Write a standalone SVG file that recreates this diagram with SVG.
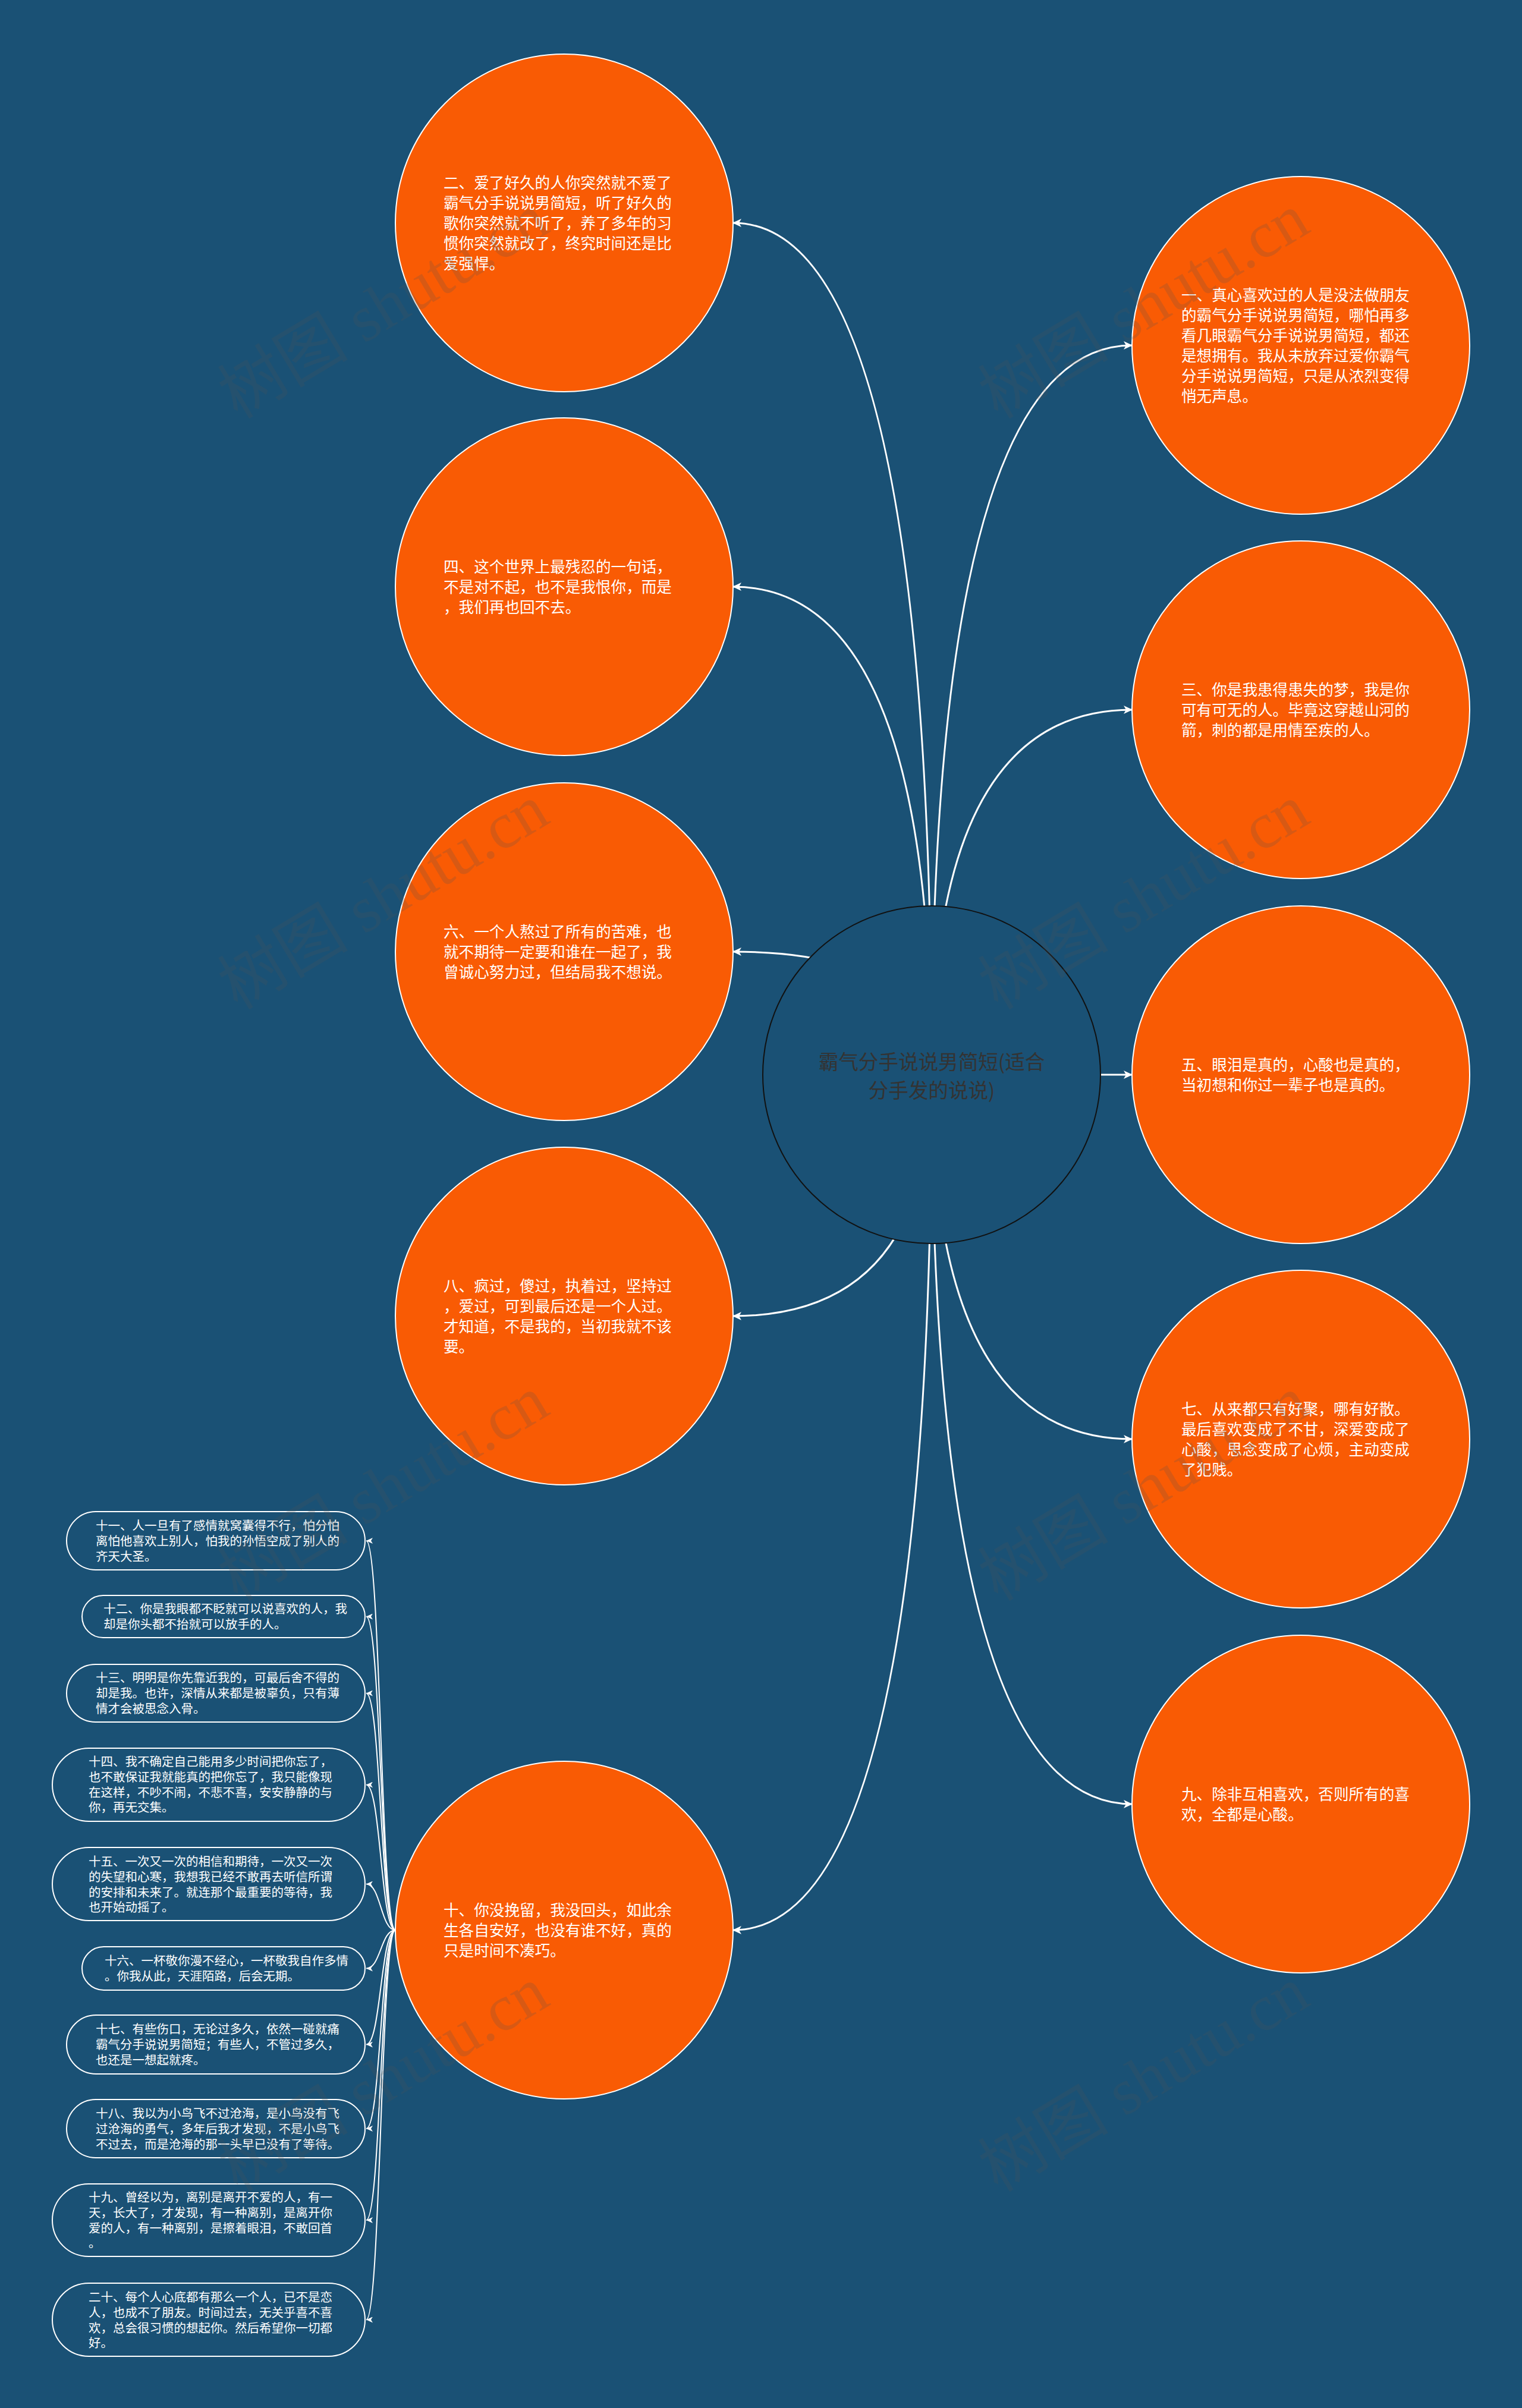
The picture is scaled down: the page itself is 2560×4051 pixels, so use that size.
<svg xmlns="http://www.w3.org/2000/svg" width="2560" height="4051" viewBox="0 0 2560 4051">
<style>
.bgr{fill:#1a5175}
.leaf{fill:#f95b04;stroke:#ffffff;stroke-width:2}
.root{fill:#1a5175;stroke:#111111;stroke-width:2}
.pill{fill:none;stroke:#ffffff;stroke-width:2}
.t{font-family:"Noto Sans CJK SC","Noto Sans",sans-serif;fill:#ffffff;font-size:25.6px}
.s{font-family:"Noto Sans CJK SC","Noto Sans",sans-serif;fill:#ffffff;font-size:20.5px}
.c{font-family:"Noto Sans CJK SC","Noto Sans",sans-serif;fill:#333333;font-size:33.6px;text-anchor:middle}
.link{fill:none;stroke:#ffffff;stroke-width:3}
.plink{fill:none;stroke:#ffffff;stroke-width:2}
.wm{font-family:"Liberation Serif","Noto Sans CJK SC",serif;font-size:110px;fill:#555555;opacity:0.2;text-anchor:middle}
</style>
<defs>
<marker id="arr" markerUnits="userSpaceOnUse" markerWidth="16" markerHeight="14" refX="14" refY="7" orient="auto">
<path d="M0,0 L15,7 L0,14 L4,7 z" fill="#ffffff"/>
</marker>
<marker id="arrs" markerUnits="userSpaceOnUse" markerWidth="12" markerHeight="10" refX="11" refY="5" orient="auto">
<path d="M0,0 L11,5 L0,10 L3,5 z" fill="#ffffff"/>
</marker>
</defs>
<rect class="bgr" x="0" y="0" width="2560" height="4051"/>

<g id="connectors">
<path class="link" marker-end="url(#arr)" d="M1567,1808 Q1567,375 1233,375"/>
<path class="link" marker-end="url(#arr)" d="M1567,1808 Q1567,987 1233,987"/>
<path class="link" marker-end="url(#arr)" d="M1567,1808 Q1567,1601 1233,1601"/>
<path class="link" marker-end="url(#arr)" d="M1567,1808 Q1567,2214 1233,2214"/>
<path class="link" marker-end="url(#arr)" d="M1567,1808 Q1567,3247 1233,3247"/>
<path class="link" marker-end="url(#arr)" d="M1567,1808 Q1567,581 1904,581"/>
<path class="link" marker-end="url(#arr)" d="M1567,1808 Q1567,1194 1904,1194"/>
<path class="link" marker-end="url(#arr)" d="M1567,1808 L1904,1808"/>
<path class="link" marker-end="url(#arr)" d="M1567,1808 Q1567,2421 1904,2421"/>
<path class="link" marker-end="url(#arr)" d="M1567,1808 Q1567,3035 1904,3035"/>
<path class="plink" marker-end="url(#arrs)" d="M665,3247 C640.5,3247 640.5,2592 616,2592"/>
<path class="plink" marker-end="url(#arrs)" d="M665,3247 C640.5,3247 640.5,2719.5 616,2719.5"/>
<path class="plink" marker-end="url(#arrs)" d="M665,3247 C640.5,3247 640.5,2848.5 616,2848.5"/>
<path class="plink" marker-end="url(#arrs)" d="M665,3247 C640.5,3247 640.5,3002.5 616,3002.5"/>
<path class="plink" marker-end="url(#arrs)" d="M665,3247 C640.5,3247 640.5,3169.5 616,3169.5"/>
<path class="plink" marker-end="url(#arrs)" d="M665,3247 C640.5,3247 640.5,3311.5 616,3311.5"/>
<path class="plink" marker-end="url(#arrs)" d="M665,3247 C640.5,3247 640.5,3439.5 616,3439.5"/>
<path class="plink" marker-end="url(#arrs)" d="M665,3247 C640.5,3247 640.5,3581 616,3581"/>
<path class="plink" marker-end="url(#arrs)" d="M665,3247 C640.5,3247 640.5,3735 616,3735"/>
<path class="plink" marker-end="url(#arrs)" d="M665,3247 C640.5,3247 640.5,3902.5 616,3902.5"/>
</g>

<g id="root">
<circle class="root" cx="1567" cy="1808" r="284"/>
<text class="c" x="1567" y="1799">霸气分手说说男简短(适合</text>
<text class="c" x="1567" y="1847">分手发的说说)</text>
</g>

<g id="n2">
<circle class="leaf" cx="949" cy="375" r="284"/>
<text class="t" x="746" y="317"><tspan x="746">二、爱了好久的人你突然就不爱了</tspan><tspan x="746" dy="34">霸气分手说说男简短，听了好久的</tspan><tspan x="746" dy="34">歌你突然就不听了，养了多年的习</tspan><tspan x="746" dy="34">惯你突然就改了，终究时间还是比</tspan><tspan x="746" dy="34">爱强悍。</tspan></text>
</g>
<g id="n4">
<circle class="leaf" cx="949" cy="987" r="284"/>
<text class="t" x="746" y="963"><tspan x="746">四、这个世界上最残忍的一句话，</tspan><tspan x="746" dy="34">不是对不起，也不是我恨你，而是</tspan><tspan x="746" dy="34">，我们再也回不去。</tspan></text>
</g>
<g id="n6">
<circle class="leaf" cx="949" cy="1601" r="284"/>
<text class="t" x="746" y="1577"><tspan x="746">六、一个人熬过了所有的苦难，也</tspan><tspan x="746" dy="34">就不期待一定要和谁在一起了，我</tspan><tspan x="746" dy="34">曾诚心努力过，但结局我不想说。</tspan></text>
</g>
<g id="n8">
<circle class="leaf" cx="949" cy="2214" r="284"/>
<text class="t" x="746" y="2173"><tspan x="746">八、疯过，傻过，执着过，坚持过</tspan><tspan x="746" dy="34">，爱过，可到最后还是一个人过。</tspan><tspan x="746" dy="34">才知道，不是我的，当初我就不该</tspan><tspan x="746" dy="34">要。</tspan></text>
</g>
<g id="n10">
<circle class="leaf" cx="949" cy="3247" r="284"/>
<text class="t" x="746" y="3223"><tspan x="746">十、你没挽留，我没回头，如此余</tspan><tspan x="746" dy="34">生各自安好，也没有谁不好，真的</tspan><tspan x="746" dy="34">只是时间不凑巧。</tspan></text>
</g>

<g id="n1">
<circle class="leaf" cx="2188" cy="581" r="284"/>
<text class="t" x="1987" y="506"><tspan x="1987">一、真心喜欢过的人是没法做朋友</tspan><tspan x="1987" dy="34">的霸气分手说说男简短，哪怕再多</tspan><tspan x="1987" dy="34">看几眼霸气分手说说男简短，都还</tspan><tspan x="1987" dy="34">是想拥有。我从未放弃过爱你霸气</tspan><tspan x="1987" dy="34">分手说说男简短，只是从浓烈变得</tspan><tspan x="1987" dy="34">悄无声息。</tspan></text>
</g>
<g id="n3">
<circle class="leaf" cx="2188" cy="1194" r="284"/>
<text class="t" x="1987" y="1170"><tspan x="1987">三、你是我患得患失的梦，我是你</tspan><tspan x="1987" dy="34">可有可无的人。毕竟这穿越山河的</tspan><tspan x="1987" dy="34">箭，刺的都是用情至疾的人。</tspan></text>
</g>
<g id="n5">
<circle class="leaf" cx="2188" cy="1808" r="284"/>
<text class="t" x="1987" y="1801"><tspan x="1987">五、眼泪是真的，心酸也是真的，</tspan><tspan x="1987" dy="34">当初想和你过一辈子也是真的。</tspan></text>
</g>
<g id="n7">
<circle class="leaf" cx="2188" cy="2421" r="284"/>
<text class="t" x="1987" y="2380"><tspan x="1987">七、从来都只有好聚，哪有好散。</tspan><tspan x="1987" dy="34">最后喜欢变成了不甘，深爱变成了</tspan><tspan x="1987" dy="34">心酸，思念变成了心烦，主动变成</tspan><tspan x="1987" dy="34">了犯贱。</tspan></text>
</g>
<g id="n9">
<circle class="leaf" cx="2188" cy="3035" r="284"/>
<text class="t" x="1987" y="3028"><tspan x="1987">九、除非互相喜欢，否则所有的喜</tspan><tspan x="1987" dy="34">欢，全都是心酸。</tspan></text>
</g>

<g id="n11">
<rect class="pill" x="112" y="2543" width="502" height="98" rx="49"/>
<text class="s" x="161" y="2574"><tspan x="161">十一、人一旦有了感情就窝囊得不行，怕分怕</tspan><tspan x="161" dy="25.8">离怕他喜欢上别人，怕我的孙悟空成了别人的</tspan><tspan x="161" dy="25.8">齐天大圣。</tspan></text>
</g>
<g id="n12">
<rect class="pill" x="138" y="2684" width="476" height="71" rx="35.5"/>
<text class="s" x="174" y="2714"><tspan x="174">十二、你是我眼都不眨就可以说喜欢的人，我</tspan><tspan x="174" dy="25.8">却是你头都不抬就可以放手的人。</tspan></text>
</g>
<g id="n13">
<rect class="pill" x="112" y="2800" width="502" height="97" rx="48.5"/>
<text class="s" x="161" y="2830"><tspan x="161">十三、明明是你先靠近我的，可最后舍不得的</tspan><tspan x="161" dy="25.8">却是我。也许，深情从来都是被辜负，只有薄</tspan><tspan x="161" dy="25.8">情才会被思念入骨。</tspan></text>
</g>
<g id="n14">
<rect class="pill" x="88" y="2941" width="526" height="123" rx="61.5"/>
<text class="s" x="149" y="2971"><tspan x="149">十四、我不确定自己能用多少时间把你忘了，</tspan><tspan x="149" dy="25.8">也不敢保证我就能真的把你忘了，我只能像现</tspan><tspan x="149" dy="25.8">在这样，不吵不闹，不悲不喜，安安静静的与</tspan><tspan x="149" dy="25.8">你，再无交集。</tspan></text>
</g>
<g id="n15">
<rect class="pill" x="88" y="3108" width="526" height="123" rx="61.5"/>
<text class="s" x="149" y="3139"><tspan x="149">十五、一次又一次的相信和期待，一次又一次</tspan><tspan x="149" dy="25.8">的失望和心寒，我想我已经不敢再去听信所谓</tspan><tspan x="149" dy="25.8">的安排和未来了。就连那个最重要的等待，我</tspan><tspan x="149" dy="25.8">也开始动摇了。</tspan></text>
</g>
<g id="n16">
<rect class="pill" x="138" y="3275" width="476" height="73" rx="36.5"/>
<text class="s" x="176" y="3306"><tspan x="176">十六、一杯敬你漫不经心，一杯敬我自作多情</tspan><tspan x="176" dy="25.8">。你我从此，天涯陌路，后会无期。</tspan></text>
</g>
<g id="n17">
<rect class="pill" x="112" y="3390" width="502" height="99" rx="49.5"/>
<text class="s" x="161" y="3421"><tspan x="161">十七、有些伤口，无论过多久，依然一碰就痛</tspan><tspan x="161" dy="25.8">霸气分手说说男简短；有些人，不管过多久，</tspan><tspan x="161" dy="25.8">也还是一想起就疼。</tspan></text>
</g>
<g id="n18">
<rect class="pill" x="112" y="3532" width="502" height="98" rx="49"/>
<text class="s" x="161" y="3563"><tspan x="161">十八、我以为小鸟飞不过沧海，是小鸟没有飞</tspan><tspan x="161" dy="25.8">过沧海的勇气，多年后我才发现，不是小鸟飞</tspan><tspan x="161" dy="25.8">不过去，而是沧海的那一头早已没有了等待。</tspan></text>
</g>
<g id="n19">
<rect class="pill" x="88" y="3674" width="526" height="122" rx="61"/>
<text class="s" x="149" y="3704"><tspan x="149">十九、曾经以为，离别是离开不爱的人，有一</tspan><tspan x="149" dy="25.8">天，长大了，才发现，有一种离别，是离开你</tspan><tspan x="149" dy="25.8">爱的人，有一种离别，是擦着眼泪，不敢回首</tspan><tspan x="149" dy="25.8">。</tspan></text>
</g>
<g id="n20">
<rect class="pill" x="88" y="3841" width="526" height="123" rx="61.5"/>
<text class="s" x="149" y="3872"><tspan x="149">二十、每个人心底都有那么一个人，已不是恋</tspan><tspan x="149" dy="25.8">人，也成不了朋友。时间过去，无关乎喜不喜</tspan><tspan x="149" dy="25.8">欢，总会很习惯的想起你。然后希望你一切都</tspan><tspan x="149" dy="25.8">好。</tspan></text>
</g>

<g id="watermarks">
<text class="wm" transform="translate(646,517) rotate(-31)" x="0" y="35">树图 shutu.cn</text>
<text class="wm" transform="translate(1925,517) rotate(-31)" x="0" y="35">树图 shutu.cn</text>
<text class="wm" transform="translate(646,1511) rotate(-31)" x="0" y="35">树图 shutu.cn</text>
<text class="wm" transform="translate(1925,1511) rotate(-31)" x="0" y="35">树图 shutu.cn</text>
<text class="wm" transform="translate(646,2506) rotate(-31)" x="0" y="35">树图 shutu.cn</text>
<text class="wm" transform="translate(1925,2506) rotate(-31)" x="0" y="35">树图 shutu.cn</text>
<text class="wm" transform="translate(646,3500) rotate(-31)" x="0" y="35">树图 shutu.cn</text>
<text class="wm" transform="translate(1925,3500) rotate(-31)" x="0" y="35">树图 shutu.cn</text>
</g>
</svg>
